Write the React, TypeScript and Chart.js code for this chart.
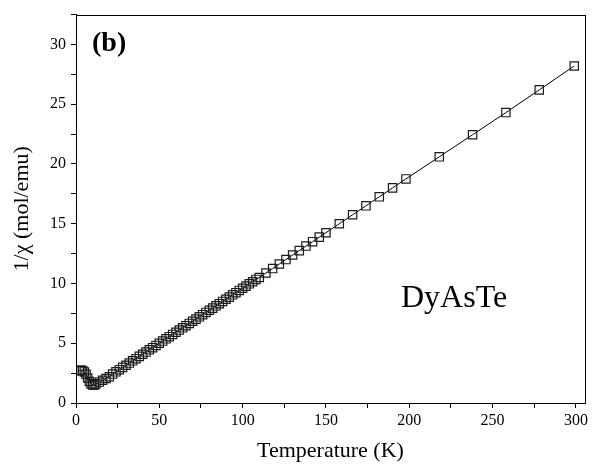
import React, { useEffect, useRef } from "react";
import { Chart, registerables } from "chart.js";

Chart.register(...registerables);

const temperatures: number[] = [
  2, 3, 4, 5, 6, 7, 8, 9, 10, 11, 12, 14, 16, 18, 20,
  22, 24, 26, 28, 30, 32, 34, 36, 38, 40, 42, 44, 46, 48, 50,
  52, 54, 56, 58, 60, 62, 64, 66, 68, 70, 72, 74, 76, 78, 80,
  82, 84, 86, 88, 90, 92, 94, 96, 98, 100, 102, 104, 106, 108,
  110, 114, 118, 122, 126, 130, 134, 138, 142, 146, 150,
  158, 166, 174, 182, 190, 198, 218, 238, 258, 278, 299,
];

const invChi: number[] = [
  2.7, 2.75, 2.7, 2.6, 2.4, 2.1, 1.8, 1.6, 1.5, 1.5, 1.6, 1.75, 1.9, 2.05, 2.2,
  2.42, 2.61, 2.79, 2.98, 3.16, 3.34, 3.53, 3.71, 3.9, 4.08, 4.26, 4.45, 4.63, 4.82, 5.0,
  5.18, 5.37, 5.55, 5.74, 5.92, 6.1, 6.29, 6.47, 6.66, 6.84, 7.02, 7.21, 7.39, 7.58, 7.76,
  7.94, 8.13, 8.31, 8.5, 8.68, 8.86, 9.05, 9.23, 9.42, 9.6, 9.78, 9.97, 10.15, 10.34,
  10.5, 10.88, 11.25, 11.63, 12.0, 12.38, 12.75, 13.13, 13.5, 13.88, 14.25,
  15.0, 15.75, 16.5, 17.25, 18.0, 18.75, 20.6, 22.45, 24.3, 26.2, 28.2,
];

// tick positions (major + minor) and labelled ticks
const xTickValues: number[] = [0, 25, 50, 75, 100, 125, 150, 175, 200, 225, 250, 275, 300];
const xTickLabels: number[] = [0, 50, 100, 150, 200, 250, 300];
const yTickValues: number[] = [0, 2.5, 5, 7.5, 10, 12.5, 15, 17.5, 20, 22.5, 25, 27.5, 30, 32.5];
const yTickLabels: number[] = [0, 5, 10, 15, 20, 25, 30];

const FONT = "'Liberation Serif', 'Times New Roman', serif";

const isLabel = (v: number, list: number[]) => list.some((l) => Math.abs(l - v) < 1e-6);

export default function App() {
  const ref = useRef<HTMLCanvasElement | null>(null);

  useEffect(() => {
    if (!ref.current) return;
    const points = temperatures.map((t, i) => ({ x: t, y: invChi[i] }));

    const framePlugin = {
      id: "frameAndText",
      afterDraw(chart: any) {
        const { ctx, chartArea } = chart;
        ctx.save();
        ctx.strokeStyle = "#000";
        ctx.lineWidth = 1;
        ctx.strokeRect(
          Math.round(chartArea.left) + 0.5,
          Math.round(chartArea.top) + 0.5,
          Math.round(chartArea.right - chartArea.left),
          Math.round(chartArea.bottom - chartArea.top)
        );
        ctx.fillStyle = "#000";
        ctx.textBaseline = "alphabetic";
        ctx.textAlign = "left";
        ctx.font = `bold 28px ${FONT}`;
        ctx.fillText("(b)", chartArea.left + 16, chartArea.top + 36);
        ctx.font = `32px ${FONT}`;
        ctx.fillText("DyAsTe", chartArea.left + 325, chartArea.top + 292);
        ctx.restore();
      },
    };

    const chart = new Chart(ref.current, {
      type: "line",
      data: {
        datasets: [
          {
            data: points,
            borderColor: "#000",
            borderWidth: 1,
            pointStyle: "rect",
            pointRadius: 5.9,
            pointBorderWidth: 1.2,
            pointBorderColor: "#1a1a1a",
            pointBackgroundColor: "rgba(255,255,255,0)",
            tension: 0,
          },
        ],
      },
      options: {
        responsive: false,
        animation: false,
        devicePixelRatio: 1,
        layout: { padding: { left: 0, top: 13, right: 6, bottom: 0 } },
        plugins: {
          legend: { display: false },
          tooltip: { enabled: false },
        },
        scales: {
          x: {
            type: "linear",
            min: 0,
            max: 305.4,
            afterBuildTicks: (scale: any) => {
              scale.ticks = xTickValues.map((v) => ({ value: v }));
            },
            afterFit: (scale: any) => {
              scale.height = 61;
            },
            ticks: {
              padding: 3,
              color: "#000",
              font: { family: FONT, size: 16 },
              maxRotation: 0,
              autoSkip: false,
              callback: (v: any) => (isLabel(Number(v), xTickLabels) ? String(Math.round(Number(v))) : ""),
            },
            grid: {
              drawOnChartArea: false,
              drawTicks: true,
              tickLength: 5,
              color: "#000",
            },
            border: { color: "#000", width: 1 },
            title: {
              display: true,
              text: "Temperature (K)",
              color: "#000",
              font: { family: FONT, size: 22 },
              padding: { top: 2, bottom: 0 },
            },
          },
          y: {
            type: "linear",
            min: 0,
            max: 32.5,
            afterBuildTicks: (scale: any) => {
              scale.ticks = yTickValues.map((v) => ({ value: v }));
            },
            afterFit: (scale: any) => {
              scale.width = 76;
            },
            ticks: {
              padding: 5,
              color: "#000",
              font: { family: FONT, size: 16 },
              autoSkip: false,
              callback: (v: any) => (isLabel(Number(v), yTickLabels) ? String(Math.round(Number(v))) : ""),
            },
            grid: {
              drawOnChartArea: false,
              drawTicks: true,
              tickLength: 5,
              color: "#000",
            },
            border: { color: "#000", width: 1 },
            title: {
              display: true,
              text: "1/χ (mol/emu)",
              color: "#000",
              font: { family: FONT, size: 22 },
              padding: { top: 9, bottom: 0 },
            },
          },
        },
      },
      plugins: [framePlugin],
    } as any);

    return () => chart.destroy();
  }, []);

  return (
    <div style={{ position: "absolute", left: 0, top: 0, width: 592, height: 464, background: "#fff" }}>
      <canvas ref={ref} width={592} height={464} />
    </div>
  );
}
